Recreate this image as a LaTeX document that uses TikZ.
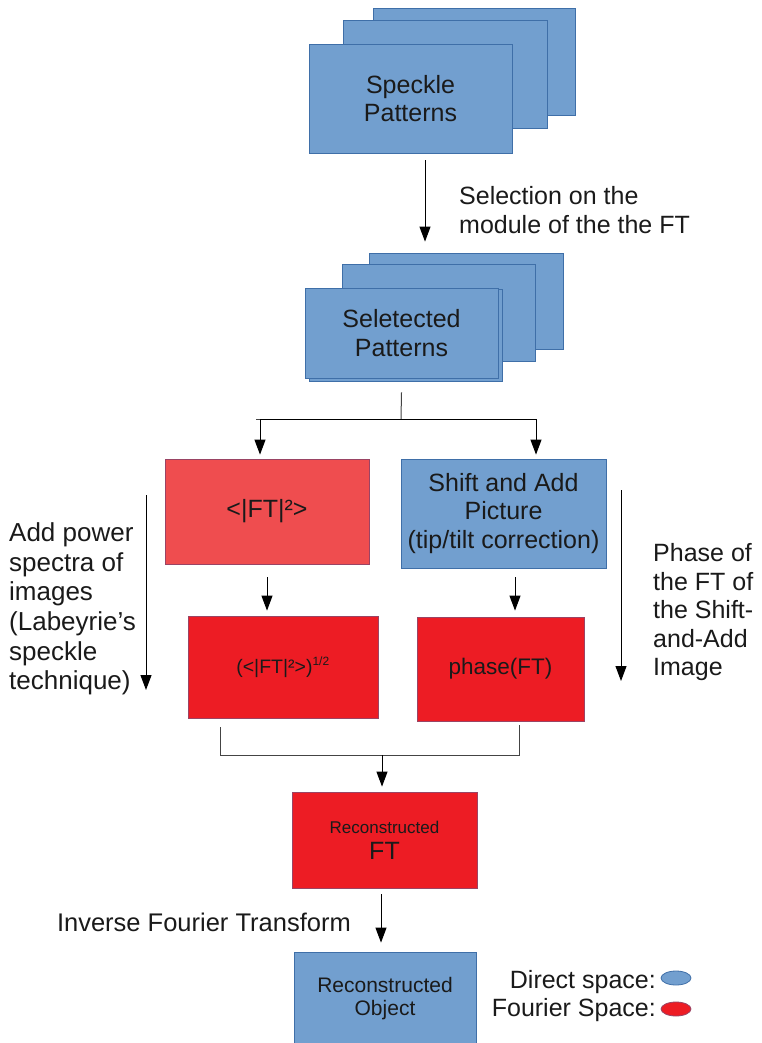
\documentclass[tikz,border=0pt]{standalone}
\usepackage{fontspec}
\setmainfont{Liberation Sans}
\usetikzlibrary{arrows.meta,shapes.geometric}
\definecolor{blu}{HTML}{729FCF}
\definecolor{bluedge}{HTML}{3F6FA8}
\definecolor{redA}{HTML}{EF4D4F}
\definecolor{redB}{HTML}{ED1C24}
\definecolor{rededge}{HTML}{9A4464}
\definecolor{txt}{HTML}{1A1A1A}
\definecolor{lin}{HTML}{444444}
\begin{document}
\begin{tikzpicture}[x=1pt,y=-1pt,
  every node/.style={text=txt},
  bluebox/.style={draw=bluedge,fill=blu,line width=0.8pt,inner sep=0pt},
  redbox/.style={draw=rededge,fill=redB,line width=0.8pt,inner sep=0pt},
  lredbox/.style={draw=rededge,fill=redA,line width=0.8pt,inner sep=0pt},
  big/.style={font=\fontsize{25}{28.5}\selectfont,align=center},
  conn/.style={draw=lin,line width=1pt},
  arr/.style={draw=black,line width=1pt,-{Triangle[length=15pt,width=11pt]}},
  lbl/.style={inner sep=0pt,align=left,font=\fontsize{25}{28.5}\selectfont}]
\useasboundingbox (0,0) rectangle (761,1043);
% top stack
\node[bluebox,minimum width=202pt,minimum height=107pt] (sp3) at (474,61.5) {};
\node[bluebox,minimum width=204pt,minimum height=108pt] (sp2) at (445,74) {};
\node[bluebox,minimum width=203pt,minimum height=109pt,big] (sp1) at (410.5,98.5) {Speckle\\Patterns};
% selection arrow
\node[lbl,anchor=west] (seltxt) at (459,210) {Selection on the\\module of the the FT};
% middle stack
\node[bluebox,minimum width=194pt,minimum height=96pt] (sl3) at (466,301) {};
\node[bluebox,minimum width=193pt,minimum height=97pt] (sl2) at (438.5,312.5) {};
\node[bluebox,minimum width=193pt,minimum height=92pt] (sl0) at (405.5,335) {};
\node[bluebox,minimum width=193pt,minimum height=90pt,big] (sl1) at (401.5,333) {Seletected\\Patterns};
\draw[arr] ([xshift=14.5pt,yshift=-7pt]sp1.south) -- ([xshift=-41pt,yshift=11pt]sl3.north);
% split
\coordinate (split) at (401,419);
\node[lredbox,minimum width=204pt,minimum height=105pt,big] (ft2) at (267,511.5) {<|FT|²>};
\node[bluebox,minimum width=205pt,minimum height=109pt,big] (sa) at (503.5,513.5) {Shift and Add\\Picture\\(tip/tilt correction)};
\draw[conn] ([yshift=-14pt]sl1.south) -- (split);
\draw[conn] (split) -- (256,419);
\draw[arr] (split) -| ([xshift=-7pt,yshift=4pt]ft2.north);
\draw[arr] (split) -| ([xshift=32.5pt,yshift=4pt]sa.north);
% second row
\node[redbox,minimum width=190pt,minimum height=102pt,font=\fontsize{19.5}{22}\selectfont] (amp) at (283,667) {(<|FT|²>)\textsuperscript{\fontsize{12}{14}\selectfont 1/2}};
\node[redbox,minimum width=167pt,minimum height=104pt,font=\fontsize{22.5}{26}\selectfont] (ph) at (500.5,669) {phase(FT)};
\draw[arr] ([yshift=-13pt]ft2.south) -- ([xshift=-16pt,yshift=5pt]amp.north);
\draw[arr] ([xshift=11.5pt,yshift=-9pt]sa.south) -- ([xshift=14.5pt,yshift=6pt]ph.north);
% side annotations
\node[lbl,anchor=west,font=\fontsize{26}{29.6}\selectfont] (ltxt) at (9,609) {Add power\\spectra of\\images\\(Labeyrie’s\\speckle\\technique)};
\coordinate (la1) at (146,495);
\coordinate (la2) at (146,690);
\draw[arr] (la1) -- (la2);
\node[lbl,anchor=west] (rtxt) at (653,612.5) {Phase of\\the FT of\\the Shift-\\and-Add\\Image};
\coordinate (ra1) at (621,490);
\coordinate (ra2) at (621,681);
\draw[arr] (ra1) -- (ra2);
% merge
\node[redbox,minimum width=185pt,minimum height=96pt,align=center,font=\fontsize{25}{26}\selectfont] (rft) at (384.5,840) {{\fontsize{17}{20}\selectfont Reconstructed}\\FT};
\coordinate (merge) at (382,755);
\draw[conn] ([xshift=-63pt,yshift=-9pt]amp.south) -- ++(0,28) -| ([xshift=18.5pt,yshift=-4pt]ph.south);
\draw[arr] (merge) -- ([xshift=-2.5pt,yshift=5pt]rft.north);
% inverse
\node[bluebox,minimum width=182pt,minimum height=93pt,align=center,font=\fontsize{21}{23.5}\selectfont] (robj) at (385,998.5) {Reconstructed\\Object};
\draw[arr] ([xshift=-3.5pt,yshift=-6pt]rft.south) -- ([xshift=-4pt,yshift=9pt]robj.north);
\node[lbl,anchor=east,font=\fontsize{25.5}{28.5}\selectfont] (invtxt) at (351,922) {Inverse Fourier Transform};
% legend
\node[lbl,anchor=east] (dtxt) at (656,982) {Direct space:};
\node[lbl,anchor=east] (ftxt) at (656,1010) {Fourier Space:};
\node[ellipse,draw=bluedge,fill=blu,line width=0.8pt,minimum width=30pt,minimum height=14pt,inner sep=0pt] (dell) at (676,978) {};
\node[ellipse,draw=rededge,fill=redB,line width=0.8pt,minimum width=30pt,minimum height=14pt,inner sep=0pt] (fell) at (676,1009) {};
\end{tikzpicture}
\end{document}
